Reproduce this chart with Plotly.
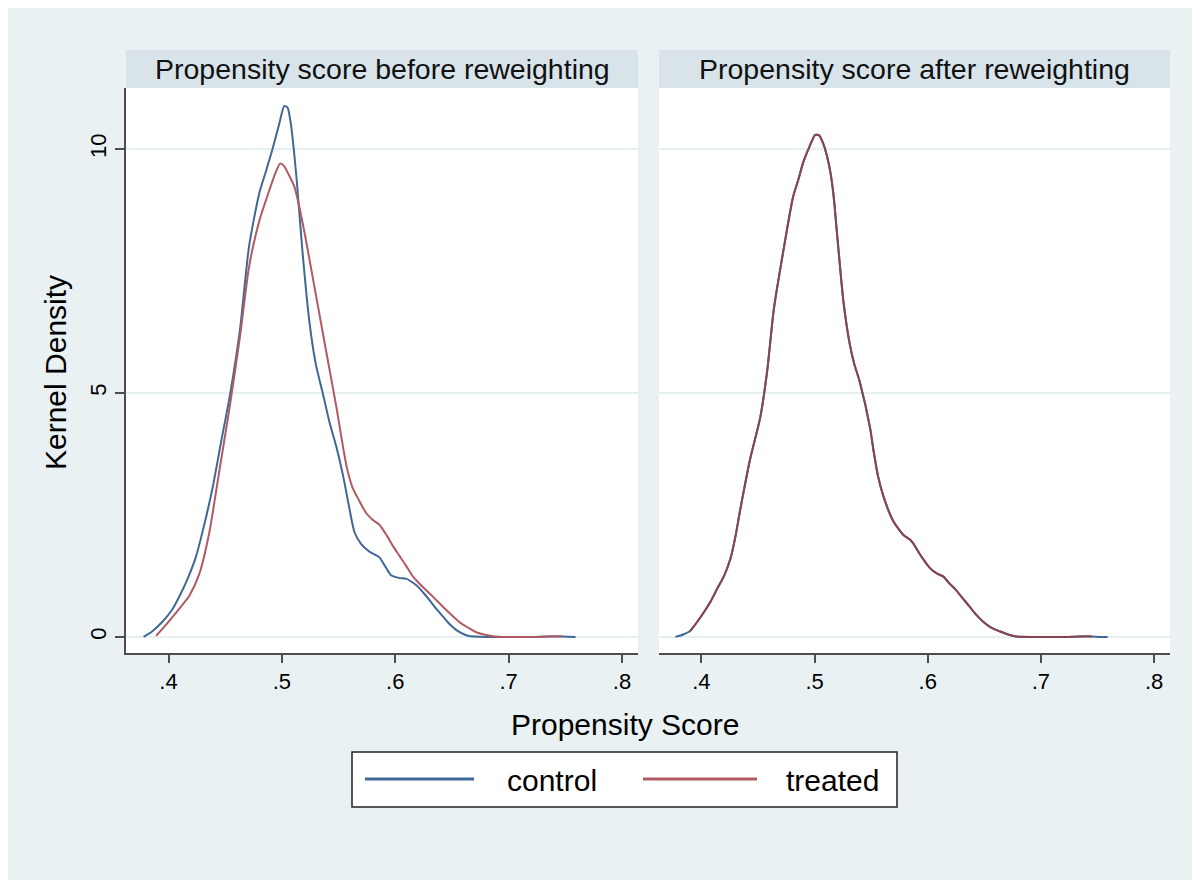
import plotly.graph_objects as go

# ---------------- data ----------------
control_before_x = [0.378, 0.386, 0.395, 0.403, 0.410, 0.417, 0.424, 0.431, 0.439, 0.446,
                    0.454, 0.463, 0.471, 0.480, 0.486, 0.492, 0.498, 0.502, 0.505, 0.508,
                    0.513, 0.518, 0.524, 0.530, 0.536, 0.542, 0.548, 0.554, 0.559, 0.564,
                    0.570, 0.577, 0.586, 0.591, 0.596, 0.603, 0.610, 0.615, 0.620, 0.625,
                    0.630, 0.636, 0.642, 0.648, 0.654, 0.660, 0.665, 0.675, 0.690, 0.705,
                    0.720, 0.733, 0.748, 0.759]
control_before_y = [0.0, 0.12, 0.32, 0.55, 0.85, 1.2, 1.63, 2.25, 3.07, 3.95,
                    4.93, 6.29, 8.0, 9.09, 9.55, 10.02, 10.55, 10.88, 10.85, 10.5,
                    9.38, 7.94, 6.51, 5.58, 5.0, 4.4, 3.9, 3.3, 2.7, 2.15,
                    1.9, 1.75, 1.63, 1.45, 1.27, 1.21, 1.19, 1.12, 1.03, 0.9,
                    0.76, 0.58, 0.42, 0.26, 0.14, 0.06, 0.02, 0.005, 0.0, 0.0,
                    0.0, 0.01, 0.01, 0.0]

treated_before_x = [0.389, 0.396, 0.404, 0.411, 0.4185, 0.427, 0.436, 0.445, 0.454, 0.463,
                    0.471, 0.480, 0.489, 0.495, 0.4985, 0.502, 0.505, 0.511, 0.5155, 0.521,
                    0.530, 0.539, 0.548, 0.557, 0.5625, 0.568, 0.574, 0.580, 0.586, 0.593,
                    0.598, 0.604, 0.610, 0.6155, 0.621, 0.627, 0.633, 0.639, 0.645, 0.651,
                    0.658, 0.665, 0.672, 0.680, 0.688, 0.695, 0.710, 0.725, 0.735, 0.747]
treated_before_y = [0.02, 0.2, 0.42, 0.62, 0.85, 1.28, 2.14, 3.43, 4.72, 6.15,
                    7.58, 8.52, 9.16, 9.55, 9.70, 9.65, 9.52, 9.23, 8.80, 8.16,
                    7.01, 5.86, 4.72, 3.5, 3.05, 2.8, 2.55, 2.4, 2.30, 2.06,
                    1.86, 1.65, 1.44, 1.24, 1.1, 0.96, 0.83, 0.69, 0.55, 0.42,
                    0.28, 0.18, 0.09, 0.04, 0.01, 0.0, 0.0, 0.0, 0.01, 0.01]

treated_after_x = [0.390, 0.396, 0.402, 0.408, 0.414, 0.420, 0.4256, 0.430, 0.434, 0.443,
                   0.452, 0.458, 0.464, 0.4726, 0.481, 0.486, 0.490, 0.4955, 0.5005, 0.504,
                   0.508, 0.511, 0.514, 0.517, 0.5197, 0.5255, 0.531, 0.535, 0.540, 0.549,
                   0.552, 0.556, 0.561, 0.5696, 0.5785, 0.584, 0.587, 0.594, 0.602, 0.608,
                   0.6136, 0.619, 0.625, 0.631, 0.637, 0.643, 0.649, 0.656, 0.664, 0.671,
                   0.678, 0.693, 0.708, 0.722, 0.734, 0.745]
treated_after_y = [0.12, 0.3, 0.5, 0.72, 0.99, 1.25, 1.6, 2.05, 2.57, 3.64,
                   4.5, 5.43, 6.72, 7.94, 9.02, 9.4, 9.73, 10.05, 10.29, 10.28,
                   10.09, 9.85, 9.52, 9.0, 8.30, 6.87, 6.01, 5.6, 5.22, 4.29,
                   3.83, 3.3, 2.87, 2.37, 2.09, 2.0, 1.92, 1.66, 1.41, 1.3,
                   1.24, 1.1, 0.96, 0.79, 0.62, 0.45, 0.31, 0.19, 0.11, 0.05,
                   0.01, 0.0, 0.0, 0.0, 0.01, 0.01]

control_after_x = [0.377, 0.384] + treated_after_x + [0.752, 0.759]
control_after_y = [0.0, 0.05] + treated_after_y + [0.0, 0.0]

x_tickvals = [0.4, 0.5, 0.6, 0.7, 0.8]
x_ticktext = [".4", ".5", ".6", ".7", ".8"]
y_tickvals = [0, 5, 10]
y_ticktext = ["0", "5", "10"]

panel_titles = ["Propensity score before reweighting", "Propensity score after reweighting"]
x_title = "Propensity Score"
y_title = "Kernel Density"
series_names = ["control", "treated"]

# ---------------- style ----------------
BLUE = "#3f6896"
RED = "#b05a61"
BG = "#e9f1f3"
STRIP = "#d8e4ea"
GRID = "#e6eff1"
AXIS = "#4d4d4d"
FONT = "Liberation Sans, Arial, Helvetica, sans-serif"

# plot area measured in page pixels: x 126..1170, y 88..653
PX0, PX1, PY0, PY1 = 126, 1170, 88, 653


def xp(px):
    return (px - PX0) / (PX1 - PX0)


def yp(py):
    return (PY1 - py) / (PY1 - PY0)


fig = go.Figure()
fig.add_trace(go.Scatter(x=control_before_x, y=control_before_y, mode="lines",
                         line=dict(color=BLUE, width=2, shape="spline", smoothing=0.6),
                         name=series_names[0], showlegend=False, xaxis="x", yaxis="y"))
fig.add_trace(go.Scatter(x=treated_before_x, y=treated_before_y, mode="lines",
                         line=dict(color=RED, width=2, shape="spline", smoothing=0.6),
                         name=series_names[1], showlegend=False, xaxis="x", yaxis="y"))
fig.add_trace(go.Scatter(x=control_after_x, y=control_after_y, mode="lines",
                         line=dict(color=BLUE, width=2, shape="spline", smoothing=0.6),
                         name=series_names[0], showlegend=False, xaxis="x2", yaxis="y2"))
fig.add_trace(go.Scatter(x=treated_after_x, y=treated_after_y, mode="lines",
                         line=dict(color="#8a4451", width=2, shape="spline", smoothing=0.6),
                         name=series_names[1], showlegend=False, xaxis="x2", yaxis="y2"))

xr = [0.3625, 0.8141]
yr = [-0.33, 11.25]
dom_l = [0, xp(638)]
dom_r = [xp(659), 1]

xaxis_common = dict(range=xr, tickvals=x_tickvals, ticktext=x_ticktext, ticks="outside",
                    ticklen=8, tickwidth=1.5, tickcolor=AXIS, showline=True, linecolor=AXIS,
                    linewidth=1.5, showgrid=False, zeroline=False,
                    tickfont=dict(family=FONT, size=22, color="#000"))
fig.update_layout(
    width=1200, height=880,
    margin=dict(l=118, r=38, t=80, b=235),
    paper_bgcolor=BG, plot_bgcolor="white",
    showlegend=False,
    xaxis=dict(domain=dom_l, anchor="y", **xaxis_common),
    xaxis2=dict(domain=dom_r, anchor="y2", **xaxis_common),
    yaxis=dict(range=yr, tickvals=y_tickvals, ticktext=y_ticktext, ticks="outside",
               ticklen=9, tickwidth=1.5, tickcolor=AXIS, showline=True, linecolor=AXIS,
               linewidth=1.5, showgrid=True, gridcolor=GRID, gridwidth=2, zeroline=False,
               tickangle=-90, tickfont=dict(family=FONT, size=22, color="#000"), anchor="x"),
    yaxis2=dict(range=yr, tickvals=y_tickvals, showticklabels=False, ticks="",
                showline=False, showgrid=True, gridcolor=GRID, gridwidth=2, zeroline=False,
                anchor="x2", matches="y"),
)

shapes = []
annotations = []
# strips with panel titles
for dom, title in zip([dom_l, dom_r], panel_titles):
    shapes.append(dict(type="rect", xref="paper", yref="paper", x0=dom[0], x1=dom[1],
                       y0=1.0, y1=yp(50), fillcolor=STRIP, line=dict(width=0), layer="below"))
    annotations.append(dict(text=title, xref="paper", yref="paper", x=(dom[0] + dom[1]) / 2,
                            y=yp(69), showarrow=False, xanchor="center", yanchor="middle",
                            font=dict(family=FONT, size=28.5, color="#111")))

# axis titles
annotations.append(dict(text=y_title, xref="paper", yref="paper", x=xp(55), y=yp(373),
                        textangle=-90, showarrow=False, xanchor="center", yanchor="middle",
                        font=dict(family=FONT, size=30, color="#000")))
annotations.append(dict(text=x_title, xref="paper", yref="paper", x=xp(625), y=yp(724),
                        showarrow=False, xanchor="center", yanchor="middle",
                        font=dict(family=FONT, size=30, color="#000")))

# legend box
shapes.append(dict(type="rect", xref="paper", yref="paper", x0=xp(352), x1=xp(897),
                   y0=yp(807), y1=yp(752), fillcolor="white", line=dict(color="#222", width=1.5)))
for (lx0, lx1, tx), col, name in zip([(365, 474, 505), (643, 757, 784)], [BLUE, RED], series_names):
    shapes.append(dict(type="line", xref="paper", yref="paper", x0=xp(lx0), x1=xp(lx1),
                       y0=yp(779), y1=yp(779), line=dict(color=col, width=3)))
    annotations.append(dict(text=name, xref="paper", yref="paper", x=xp(tx), y=yp(780),
                            showarrow=False, xanchor="left", yanchor="middle",
                            font=dict(family=FONT, size=30, color="#000")))

fig.update_layout(shapes=shapes, annotations=annotations)
fig.write_html("out.html",
               post_script="document.documentElement.style.overflow='hidden';")
